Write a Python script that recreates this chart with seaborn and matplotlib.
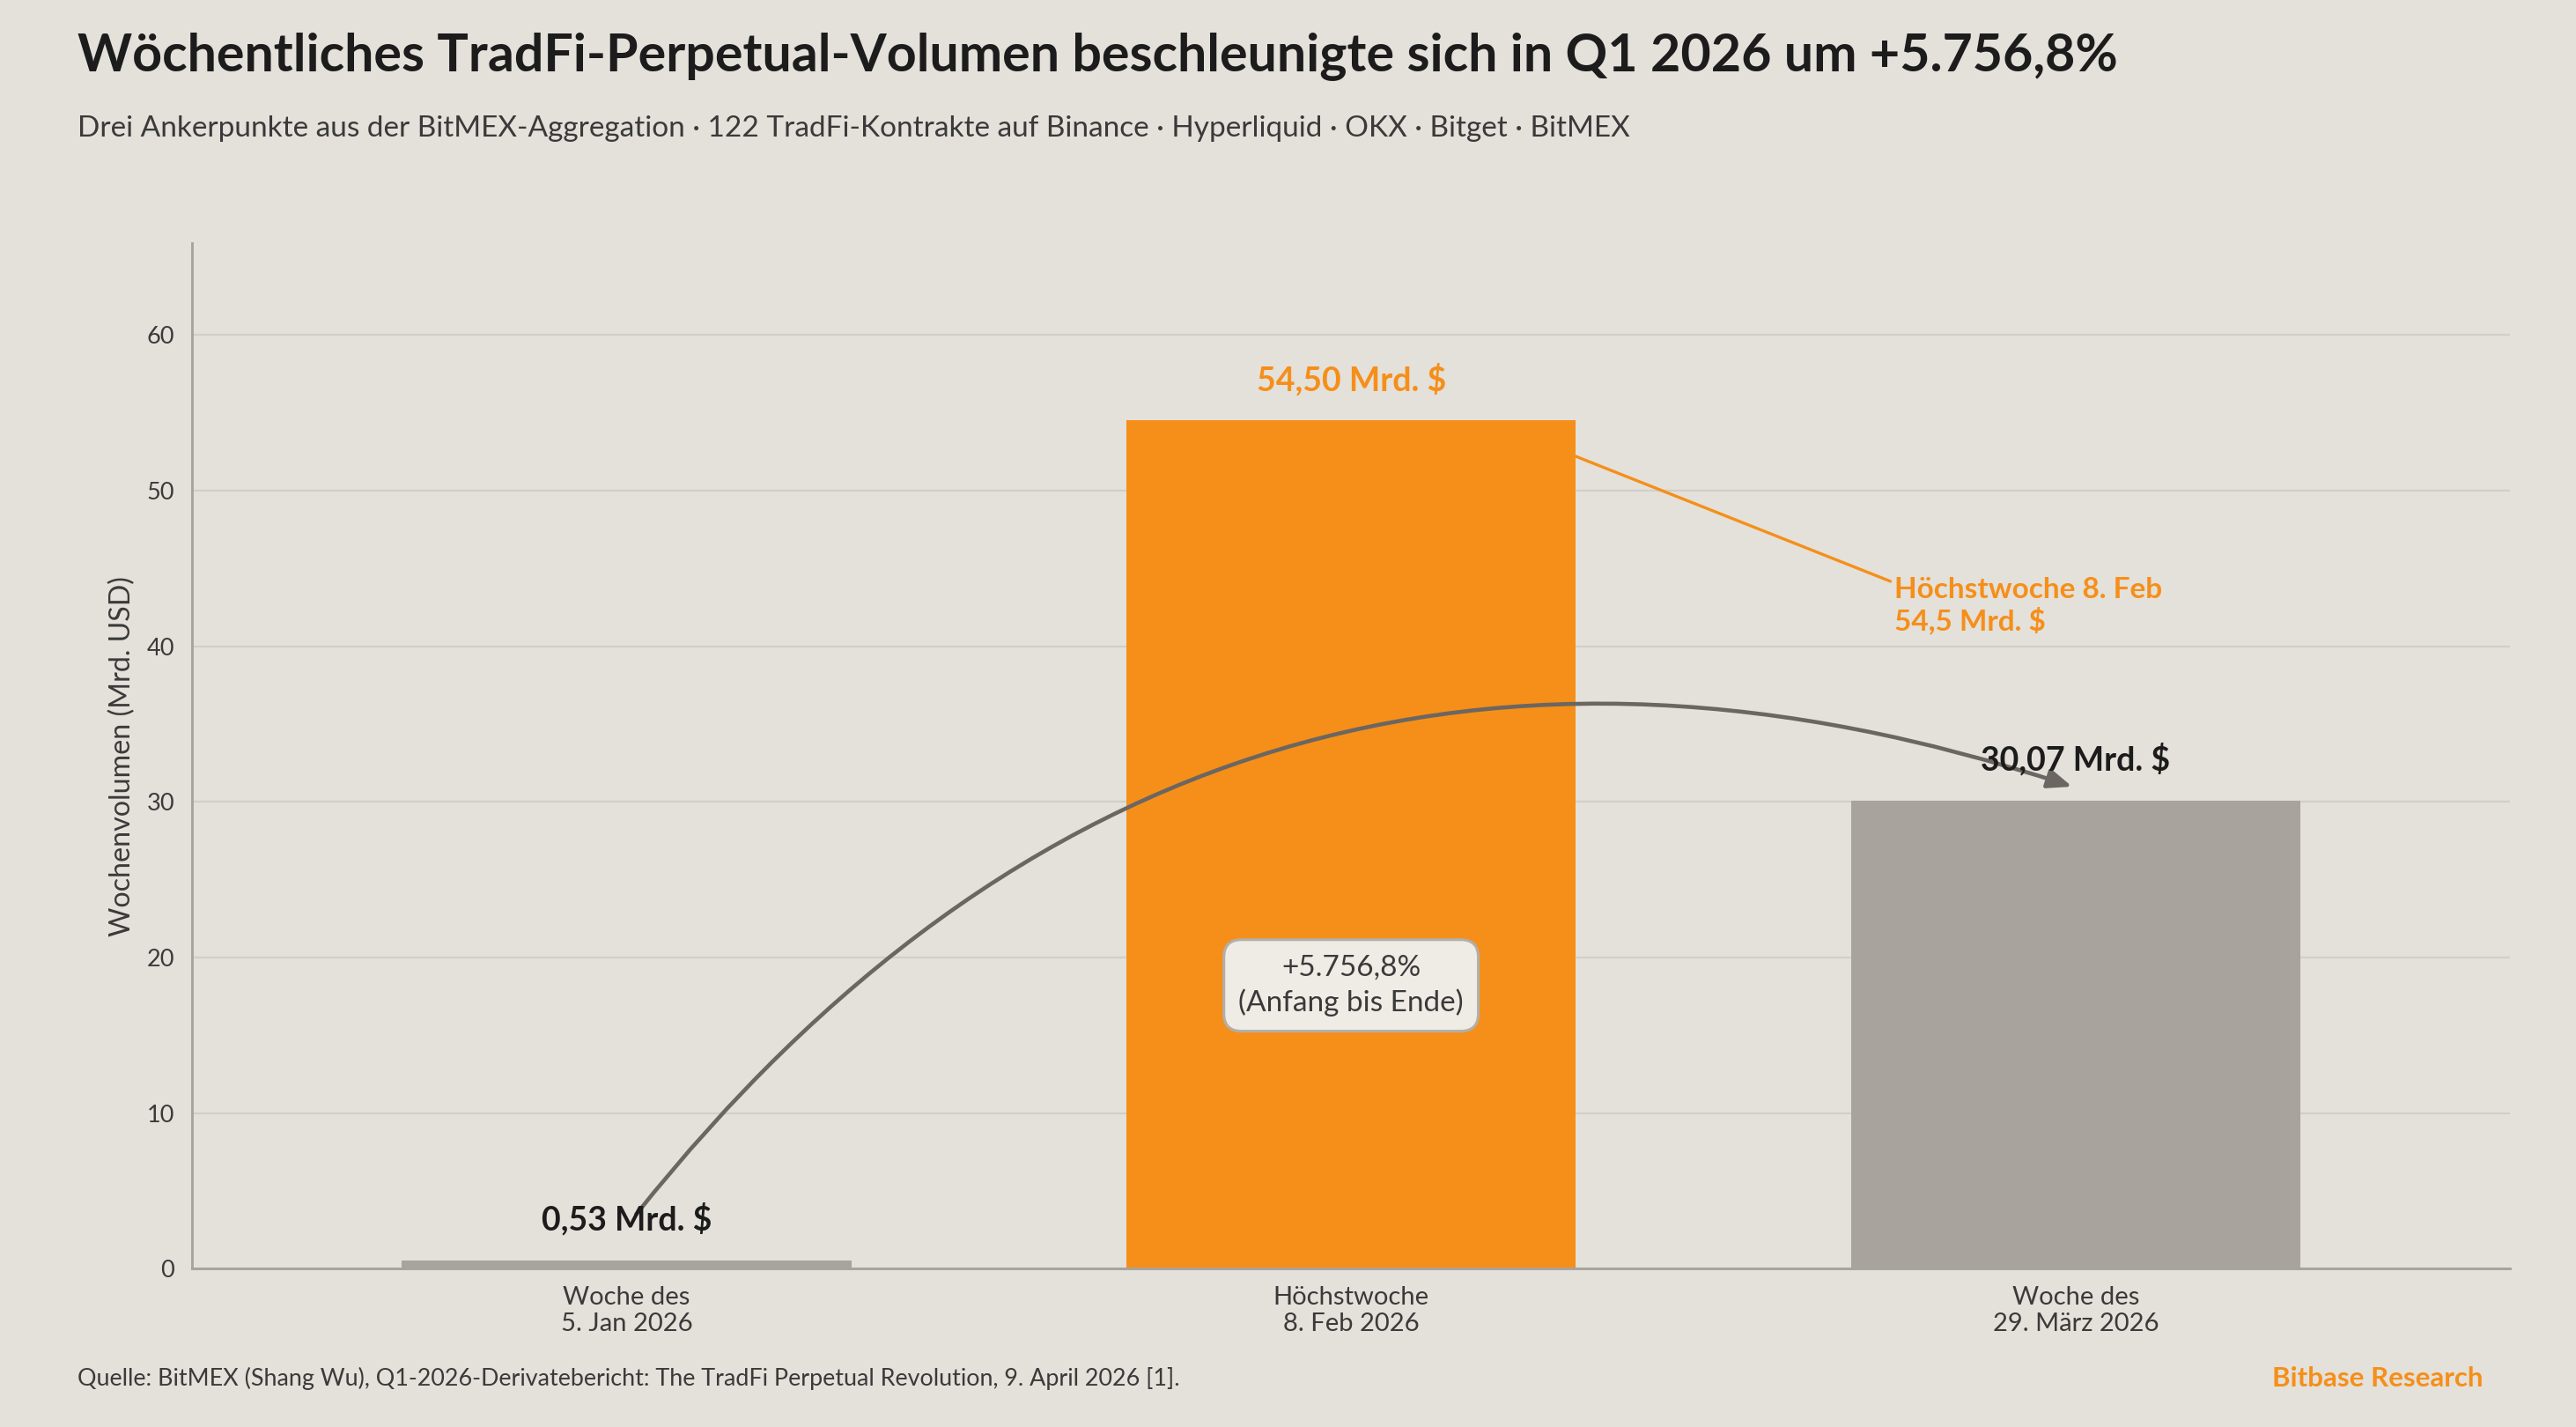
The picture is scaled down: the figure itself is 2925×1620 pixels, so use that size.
# Wöchentliches TradFi-Perpetual-Volumen, Q1 2026
import numpy as np
import pandas as pd
import matplotlib.pyplot as plt
import seaborn as sns
from matplotlib.patches import FancyArrowPatch

wochen = ['Woche des\n5. Jan 2026', 'Höchstwoche\n8. Feb 2026', 'Woche des\n29. März 2026']
volumen = [0.53, 54.50, 30.07]
wert_labels = ['0,53 Mrd. $', '54,50 Mrd. $', '30,07 Mrd. $']
farben = ['#a8a39c', '#f58f19', '#a8a39c']
label_farben = ['#1c1c1c', '#f58f19', '#1c1c1c']

BG = '#e4e0da'
ORANGE = '#f58f19'
DUNKEL = '#1c1c1c'
TEXT = '#3a3a3a'

sns.set_theme(style='white')
plt.rcParams['font.family'] = ['Lato', 'DejaVu Sans']

fig = plt.figure(figsize=(19.5, 10.8), dpi=150, facecolor=BG)
ax = fig.add_axes([0.0745, 0.111, 0.9, 0.7186], facecolor=BG)

df = pd.DataFrame({'woche': wochen, 'volumen': volumen})
sns.barplot(data=df, x='woche', y='volumen', hue='woche', palette=farben,
            width=0.62, legend=False, saturation=1, linewidth=0, ax=ax, zorder=2)

ax.set_xlim(-0.6, 2.6)
ax.set_ylim(0, 65.9)
ax.set_yticks([0, 10, 20, 30, 40, 50, 60])
ax.yaxis.grid(True, color='#d3cfc8', linewidth=1.1, zorder=0)
ax.set_axisbelow(True)
for s in ['top', 'right']:
    ax.spines[s].set_visible(False)
for s in ['left', 'bottom']:
    ax.spines[s].set_color('#a8a39c')
    ax.spines[s].set_linewidth(1.4)
ax.tick_params(axis='both', colors='#555', length=6, width=1, labelcolor=TEXT)
ax.tick_params(axis='x', labelsize=14)
ax.tick_params(axis='y', labelsize=13)
ax.set_xlabel('')
ax.set_ylabel('Wochenvolumen (Mrd. USD)', fontsize=15.5, color=TEXT, labelpad=6)

# Wertelabels
for i, (v, t, c) in enumerate(zip(volumen, wert_labels, label_farben)):
    ax.text(i, v + 1.6, t, ha='center', va='bottom', fontsize=18,
            fontweight='bold', color=c, zorder=5)

# Höchstwoche-Annotation
ax.annotate('Höchstwoche 8. Feb\n54,5 Mrd. $', xy=(1.31, 52.2), xytext=(1.75, 42.6),
            fontsize=16, fontweight='bold', color=ORANGE, ha='left', va='center',
            linespacing=1.15,
            arrowprops=dict(arrowstyle='-', color=ORANGE, lw=1.6,
                            shrinkA=0, shrinkB=0, relpos=(0, 0.9)))

# geschwungener Pfeil Anfang -> Ende
pfeil = FancyArrowPatch((0.01, 3.3), (2.0, 30.9), connectionstyle='arc3,rad=-0.35',
                        arrowstyle='-|>,head_length=0.55,head_width=0.22',
                        mutation_scale=20, color='#6b6661', lw=2.2, zorder=4)
ax.add_patch(pfeil)

ax.text(1.0, 18.2, '+5.756,8%\n(Anfang bis Ende)', ha='center', va='center',
        fontsize=16, color=TEXT, linespacing=1.35, zorder=6,
        bbox=dict(boxstyle='round,pad=0.5,rounding_size=0.6', facecolor='#efece6',
                  edgecolor='#b3aea7', linewidth=1.5))

fig.text(0.030, 0.960, 'Wöchentliches TradFi-Perpetual-Volumen beschleunigte sich in Q1 2026 um +5.756,8%',
         fontsize=28.4, fontweight='bold', color=DUNKEL, ha='left', va='center')
fig.text(0.030, 0.910, 'Drei Ankerpunkte aus der BitMEX-Aggregation · 122 TradFi-Kontrakte auf Binance · Hyperliquid · OKX · Bitget · BitMEX',
         fontsize=16, color=TEXT, ha='left', va='center')
fig.text(0.030, 0.034, 'Quelle: BitMEX (Shang Wu), Q1-2026-Derivatebericht: The TradFi Perpetual Revolution, 9. April 2026 [1].',
         fontsize=12.9, color=TEXT, ha='left', va='center')
fig.text(0.964, 0.034, 'Bitbase Research', fontsize=15, fontweight='bold',
         color=ORANGE, ha='right', va='center')

fig.savefig('out.png', dpi=150, facecolor=BG)
